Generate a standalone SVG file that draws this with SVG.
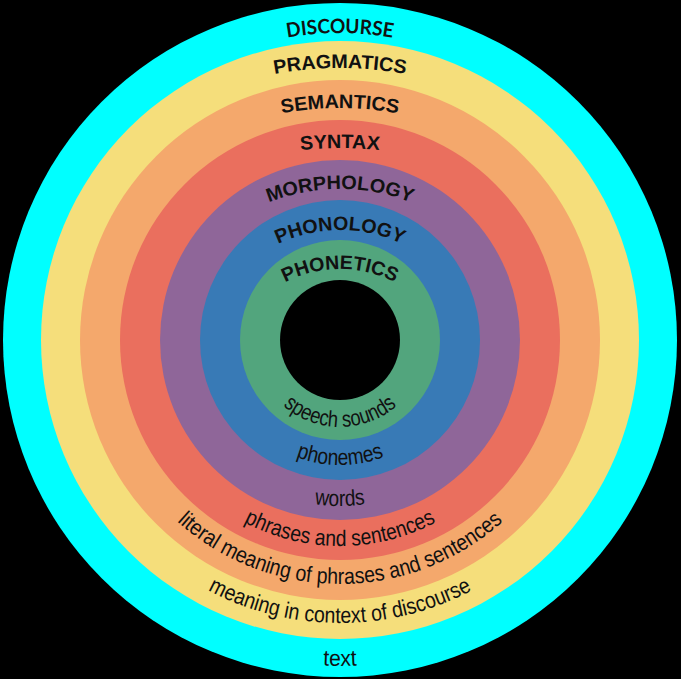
<svg xmlns="http://www.w3.org/2000/svg" xmlns:xlink="http://www.w3.org/1999/xlink" width="681" height="679" viewBox="0 0 681 679">
  <style>
    .title { font-family: "Liberation Sans", Arial, sans-serif; font-weight: bold; font-size: 19.5px; fill: #111111; }
    .title2 { font-family: Lato, "Liberation Sans", sans-serif; font-weight: bold; font-size: 20px; fill: #111111; }
    .desc { font-family: "Liberation Sans", Arial, sans-serif; font-size: 22.5px; fill: #111111; }
  </style>
  <defs>
    <path id="pDiscourse" d="M 33,340 A 307,307 0 0 1 647,340"/>
    <path id="pPragmatics" d="M -22,430 A 362,362 0 0 1 702,430"/>
    <path id="pSemantics" d="M 26,422 A 314,314 0 0 1 654,422"/>
    <path id="pSyntax" d="M -60,548 A 400,400 0 0 1 740,548"/>
    <path id="pMorphology" d="M 145,384 A 195,195 0 0 1 535,384"/>
    <path id="pPhonology" d="M 195,375 A 145,145 0 0 1 485,375"/>
    <path id="pPhonetics" d="M 221,388 A 119,119 0 0 1 459,388"/>
    <path id="bSpeech" d="M 253,340 A 87,87 0 0 0 427,340"/>
    <path id="bPhonemes" d="M 215,340 A 125,125 0 0 0 465,340"/>
    <path id="bWords" d="M 174,340 A 166,166 0 0 0 506,340"/>
    <path id="bPhrases" d="M 134,340 A 206,206 0 0 0 546,340"/>
    <path id="bLiteral" d="M 96,340 A 244,244 0 0 0 584,340"/>
    <path id="bMeaning" d="M 57,340 A 283,283 0 0 0 623,340"/>
    <path id="bText" d="M 14,340 A 326,326 0 0 0 666,340"/>
  </defs>

  <rect x="0" y="0" width="681" height="679" fill="#000000"/>

  <g id="discourse">
    <circle cx="340" cy="340" r="337" fill="#00FFFF"/>
  </g>
  <g id="pragmatics">
    <circle cx="340" cy="340" r="299" fill="#F5DE7B"/>
  </g>
  <g id="semantics">
    <circle cx="340" cy="340" r="260" fill="#F4A86C"/>
  </g>
  <g id="syntax">
    <circle cx="340" cy="340" r="220" fill="#EA6F5E"/>
  </g>
  <g id="morphology">
    <circle cx="340" cy="340" r="180" fill="#8F6699"/>
  </g>
  <g id="phonology">
    <circle cx="340" cy="340" r="140" fill="#387AB6"/>
  </g>
  <g id="phonetics">
    <circle cx="340" cy="340" r="100" fill="#52A57D"/>
  </g>
  <g id="hole">
    <circle cx="340" cy="340" r="60" fill="#000000"/>
  </g>

  <g id="titles">
    <text class="title2"><textPath xlink:href="#pDiscourse" href="#pDiscourse" startOffset="50%" text-anchor="middle" textLength="106" lengthAdjust="spacingAndGlyphs">DISCOURSE</textPath></text>
    <text class="title"><textPath xlink:href="#pPragmatics" href="#pPragmatics" startOffset="50%" text-anchor="middle" textLength="132" lengthAdjust="spacingAndGlyphs">PRAGMATICS</textPath></text>
    <text class="title"><textPath xlink:href="#pSemantics" href="#pSemantics" startOffset="50%" text-anchor="middle" textLength="117" lengthAdjust="spacingAndGlyphs">SEMANTICS</textPath></text>
    <text class="title"><textPath xlink:href="#pSyntax" href="#pSyntax" startOffset="50%" text-anchor="middle" textLength="79" lengthAdjust="spacingAndGlyphs">SYNTAX</textPath></text>
    <text class="title"><textPath xlink:href="#pMorphology" href="#pMorphology" startOffset="50%" text-anchor="middle" textLength="146" lengthAdjust="spacingAndGlyphs">MORPHOLOGY</textPath></text>
    <text class="title"><textPath xlink:href="#pPhonology" href="#pPhonology" startOffset="50%" text-anchor="middle" textLength="128" lengthAdjust="spacingAndGlyphs">PHONOLOGY</textPath></text>
    <text class="title"><textPath xlink:href="#pPhonetics" href="#pPhonetics" startOffset="50%" text-anchor="middle" textLength="114" lengthAdjust="spacingAndGlyphs">PHONETICS</textPath></text>
  </g>

  <g id="descriptions">
    <text class="desc"><textPath xlink:href="#bSpeech" href="#bSpeech" startOffset="50%" text-anchor="middle" textLength="124" lengthAdjust="spacingAndGlyphs">speech sounds</textPath></text>
    <text class="desc"><textPath xlink:href="#bPhonemes" href="#bPhonemes" startOffset="50%" text-anchor="middle" textLength="90" lengthAdjust="spacingAndGlyphs">phonemes</textPath></text>
    <text class="desc"><textPath xlink:href="#bWords" href="#bWords" startOffset="50%" text-anchor="middle" textLength="51" lengthAdjust="spacingAndGlyphs">words</textPath></text>
    <text class="desc"><textPath xlink:href="#bPhrases" href="#bPhrases" startOffset="50%" text-anchor="middle" textLength="200" lengthAdjust="spacingAndGlyphs">phrases and sentences</textPath></text>
    <text class="desc"><textPath xlink:href="#bLiteral" href="#bLiteral" startOffset="50%" text-anchor="middle" textLength="357" lengthAdjust="spacingAndGlyphs">literal meaning of phrases and sentences</textPath></text>
    <text class="desc"><textPath xlink:href="#bMeaning" href="#bMeaning" startOffset="50%" text-anchor="middle" textLength="275" lengthAdjust="spacingAndGlyphs">meaning in context of discourse</textPath></text>
    <text class="desc"><textPath xlink:href="#bText" href="#bText" startOffset="50%" text-anchor="middle" textLength="34" lengthAdjust="spacingAndGlyphs">text</textPath></text>
  </g>

  <g id="connectors"/>
</svg>
